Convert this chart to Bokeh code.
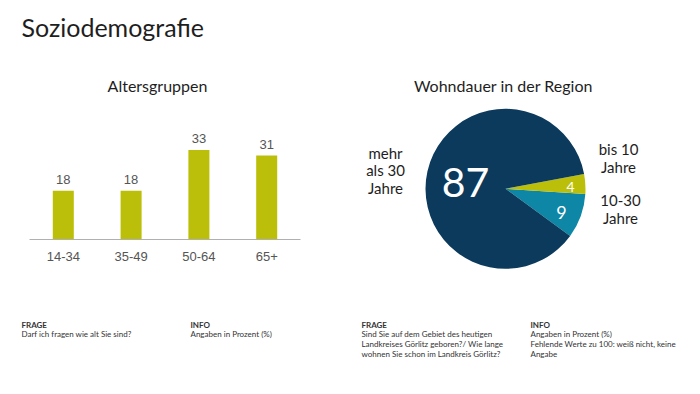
import numpy as np
from bokeh.plotting import figure
from bokeh.models import (ColumnDataSource, Range1d, LinearAxis, FixedTicker, Label)
from bokeh.embed import file_html
from bokeh.resources import INLINE
from bokeh.core.properties import value

# ---------------- data ----------------
title_text = "Soziodemografie"
bar_title = "Altersgruppen"
age_groups = ["14-34", "35-49", "50-64", "65+"]
age_values = [18, 18, 33, 31]

pie_title = "Wohndauer in der Region"
dur_categories = ["10-30 Jahre", "bis 10 Jahre", "mehr als 30 Jahre"]
dur_values = [9, 4, 87]
dur_colors = ["#0e86a6", "#bcbf0a", "#0b3a5c"]

left_frage = ["Darf ich fragen wie alt Sie sind?"]
left_info = ["Angaben in Prozent (%)"]
right_frage = ["Sind Sie auf dem Gebiet des heutigen",
               "Landkreises Görlitz geboren?/ Wie lange",
               "wohnen Sie schon im Landkreis Görlitz?"]
right_info = ["Angaben in Prozent (%)",
              "Fehlende Werte zu 100: weiß nicht, keine",
              "Angabe"]

# ---------------- layout constants ----------------
W, H = 684, 378
FONT = "Lato"
DARK = "#1e1e1e"
GREY = "#555555"


def px(x):  # page x -> data x
    return x


def py(y):  # page y -> data y
    return H - y


p = figure(width=W, height=H, output_backend="svg", toolbar_location=None,
           x_range=Range1d(0, W), y_range=Range1d(0, H),
           x_axis_location=None, y_axis_location=None, min_border=0,
           outline_line_color=None, background_fill_color="white",
           border_fill_color="white")
p.xgrid.grid_line_color = None
p.ygrid.grid_line_color = None

# ---- bar chart ranges (index based) ----
bar_first = 62.8      # page x of first bar centre
bar_step = 67.8       # px between bars
base_y = 239.0        # page y of baseline
px_per_unit = 2.713
bx0 = -(px(bar_first)) / bar_step
bx1 = (W - px(bar_first)) / bar_step
by0 = -py(base_y) / px_per_unit
by1 = (H - py(base_y)) / px_per_unit
p.extra_x_ranges = {"bx": Range1d(bx0, bx1)}
p.extra_y_ranges = {"by": Range1d(by0, by1)}

idx = list(range(len(age_groups)))
bsrc = ColumnDataSource(dict(x=idx, v=age_values, lab=[str(v) for v in age_values]))
p.vbar(x="x", top="v", width=0.31, source=bsrc, x_range_name="bx", y_range_name="by",
       fill_color="#bcbf0a", line_color=None)
p.text(x="x", y="v", text="lab", source=bsrc, x_range_name="bx", y_range_name="by",
       text_align="center", text_baseline="middle", y_offset=-11,
       text_font=value("Liberation Sans"), text_font_size="13px", text_color=GREY)

ax = LinearAxis(x_range_name="bx", y_range_name="by", fixed_location=0,
                ticker=FixedTicker(ticks=idx),
                major_label_overrides={i: g for i, g in enumerate(age_groups)},
                bounds=(-0.5, len(age_groups) - 0.5),
                major_tick_line_color=None, minor_tick_line_color=None,
                axis_line_color="#b0b0b0", axis_line_width=1,
                major_label_text_color=GREY, major_label_text_font="Liberation Sans",
                major_label_text_font_size="13px", major_label_standoff=6)
p.add_layout(ax, "below")

# ---- pie ----
cx, cy, r = px(505), py(188.3), 80
start0 = np.deg2rad(-36.1)
ang = np.array(dur_values) / 100 * 2 * np.pi
ends = start0 + np.cumsum(ang)
starts = ends - ang
psrc = ColumnDataSource(dict(start=starts, end=ends, color=dur_colors,
                             cat=dur_categories, v=dur_values))
p.wedge(x=cx, y=cy, radius=r, radius_units="screen", start_angle="start",
        end_angle="end", fill_color="color", line_color=None, source=psrc)

# value labels inside pie
pie_lab_pos = [(561, 212, "18px"), (570, 186, "14px"), (465, 182, "41px")]
for (lx, ly, fs), v in zip(pie_lab_pos, dur_values):
    p.add_layout(Label(x=px(lx), y=py(ly), text=str(v), text_align="center",
                       text_baseline="middle", text_font=FONT, text_font_size=fs,
                       text_color="white"))

# category labels outside pie
outer = [(620, [200, 217], ["10-30", "Jahre"]),
         (618, [148, 166], ["bis 10", "Jahre"]),
         (385, [152, 169.5, 187], ["mehr", "als 30", "Jahre"])]
for lx, ys, lines in outer:
    for yy, t in zip(ys, lines):
        p.add_layout(Label(x=px(lx), y=py(yy), text=t, text_align="center",
                           text_baseline="middle", text_font=FONT,
                           text_font_size="15px", text_color=DARK))

# ---- titles ----
p.add_layout(Label(x=px(21), y=py(26), text=title_text, text_align="left",
                   text_baseline="middle", text_font=FONT, text_font_size="25px",
                   text_color=DARK))
p.add_layout(Label(x=px(157), y=py(85), text=bar_title, text_align="center",
                   text_baseline="middle", text_font=FONT, text_font_size="16px",
                   text_color=DARK))
p.add_layout(Label(x=px(503), y=py(85), text=pie_title, text_align="center",
                   text_baseline="middle", text_font=FONT, text_font_size="16px",
                   text_color=DARK))

# ---- footers ----
def footer(x, head, lines, y0=324, step=9.7):
    p.add_layout(Label(x=px(x), y=py(y0), text=head, text_align="left",
                       text_baseline="middle", text_font=FONT, text_font_size="8px",
                       text_font_style="bold", text_color="#333333"))
    for i, t in enumerate(lines):
        p.add_layout(Label(x=px(x), y=py(y0 + step * (i + 1)), text=t, text_align="left",
                           text_baseline="middle", text_font=FONT,
                           text_font_size="8px", text_color="#333333"))

footer(21, "FRAGE", left_frage)
footer(190, "INFO", left_info)
footer(361, "FRAGE", right_frage)
footer(530, "INFO", right_info)

open("out.html", "w").write(file_html(p, INLINE))
